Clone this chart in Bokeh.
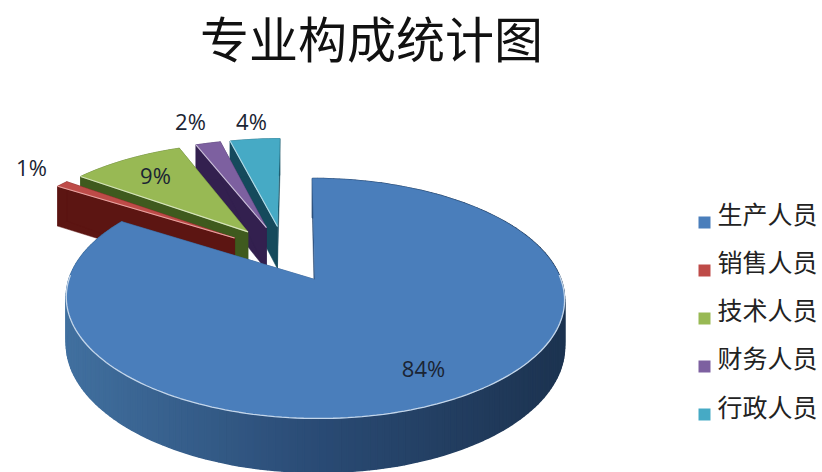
import numpy as np
from bokeh.plotting import figure
from bokeh.models import Range1d
from bokeh.core.properties import value
from bokeh.embed import file_html
from bokeh.resources import INLINE

# ---- data ----
title_text = "专业构成统计图"
categories = ["生产人员", "销售人员", "技术人员", "财务人员", "行政人员"]
shares = [84, 1, 9, 2, 4]
top_colors = ["#4a7ebb", "#be4b48", "#98b954", "#7d60a0", "#46aac5"]
wall_colors = ["#2a4b75", "#5c1512", "#3f5a1e", "#33204f", "#154a5c"]
edge_colors = ["#c4d6ea", "#e8a5a3", "#d6e3bc", "#ccc1da", "#b7dde8"]

# ---- projection of the tilted, exploded disc ----
XC, Y0, RX, RY, K, DEPTH, EXPLODE = 296.0, 279.0, 246.0, 117.0, 0.158, 45.5, 0.261
BLUE_APEX_U = 0.075


def project(u, v):
    w = 1 + K * v
    return XC + RX * u / w, Y0 - RY * v / w, DEPTH / w


frac = np.array(shares, dtype=float) / sum(shares)
starts = np.concatenate([[0], np.cumsum(frac)[:-1]]) * 2 * np.pi
ends = np.cumsum(frac) * 2 * np.pi
mids = (starts + ends) / 2
cu = BLUE_APEX_U - EXPLODE * np.sin(mids[0])
cv = -EXPLODE * np.cos(mids[0])

p = figure(width=822, height=472, output_backend="svg", toolbar_location=None,
           x_range=Range1d(0, 822), y_range=Range1d(472, 0),
           min_border=0, outline_line_color=None)
p.axis.visible = False
p.grid.visible = False
p.background_fill_color = "white"
p.border_fill_color = "white"


def lerp_hex(a, b, t):
    ca = [int(a[i:i + 2], 16) for i in (1, 3, 5)]
    cb = [int(b[i:i + 2], 16) for i in (1, 3, 5)]
    return "#%02x%02x%02x" % tuple(int(round(x + (y - x) * t)) for x, y in zip(ca, cb))


# back to front: teal, purple, green, red, blue
for i in [4, 3, 2, 1, 0]:
    au = cu + EXPLODE * np.sin(mids[i])
    av = cv + EXPLODE * np.cos(mids[i])
    n = max(int((ends[i] - starts[i]) * 40), 4)
    th = np.linspace(starts[i], ends[i], n)
    ru, rv = au + np.sin(th), av + np.cos(th)
    rx, ry, rd = project(ru, rv)
    ax, ay, ad = project(au, av)

    # cut faces
    for j, c in ((0, wall_colors[i]), (-1, wall_colors[i])):
        p.patch([ax, rx[j], rx[j], ax], [ay, ry[j], ry[j] + rd[j], ay + ad],
                fill_color=c, line_color=c, line_width=0.5)

    # outer wall, shaded across its width
    if i == 0:
        xs, ys, cols = [], [], []
        for k in range(n - 1):
            xs.append([rx[k], rx[k + 1], rx[k + 1], rx[k]])
            ys.append([ry[k], ry[k + 1], ry[k + 1] + rd[k + 1], ry[k] + rd[k]])
            t = (rx[k] - 67) / 498
            if t < 0.5:
                cols.append(lerp_hex("#41709f", "#2a4b75", t / 0.5))
            else:
                cols.append(lerp_hex("#2a4b75", "#1c3350", (t - 0.5) / 0.5))
        p.patches(xs, ys, fill_color=cols, line_color=cols, line_width=1.5)
    else:
        p.patch(list(rx) + list(rx[::-1]), list(ry) + list((ry + rd)[::-1]),
                fill_color=wall_colors[i], line_color=wall_colors[i], line_width=0.5)

    # top surface
    p.patch([ax] + list(rx), [ay] + list(ry), fill_color=top_colors[i],
            line_color=top_colors[i], line_width=0.5)

    # light bevel on the edges facing the viewer
    if i == 0:
        front = (np.cos(th) < 0.05)
        p.line(rx[front], ry[front], line_color=edge_colors[0], line_width=1.3)
    else:
        p.line([ax, rx[0]], [ay, ry[0]], line_color=edge_colors[i], line_width=1.1)

# ---- labels ----
label_x = [423, 31, 155, 190, 251]
label_y = [367, 166, 174, 120, 120]
p.text(label_x, label_y, text=[f"{s}%" for s in shares],
       text_font=value("Open Sans"), text_font_size="22px", text_color="#1a2433",
       text_align="center", text_baseline="middle")

# ---- title ----
p.text([371], [36], text=[title_text], text_font=value("Noto Sans CJK SC"),
       text_font_size="49px", text_color="#111111",
       text_align="center", text_baseline="middle")

# ---- legend ----
legend_y = [222, 270, 318, 366, 414]
text_y = [212, 260, 308, 356, 405]
p.rect([704] * 5, legend_y, width=12, height=12, fill_color=top_colors,
       line_color=None)
p.text([717] * 5, text_y, text=categories, text_font=value("Noto Sans CJK SC"),
       text_font_size="25px", text_color="#222222",
       text_align="left", text_baseline="middle")

open("out.html", "w").write(file_html(p, INLINE))
